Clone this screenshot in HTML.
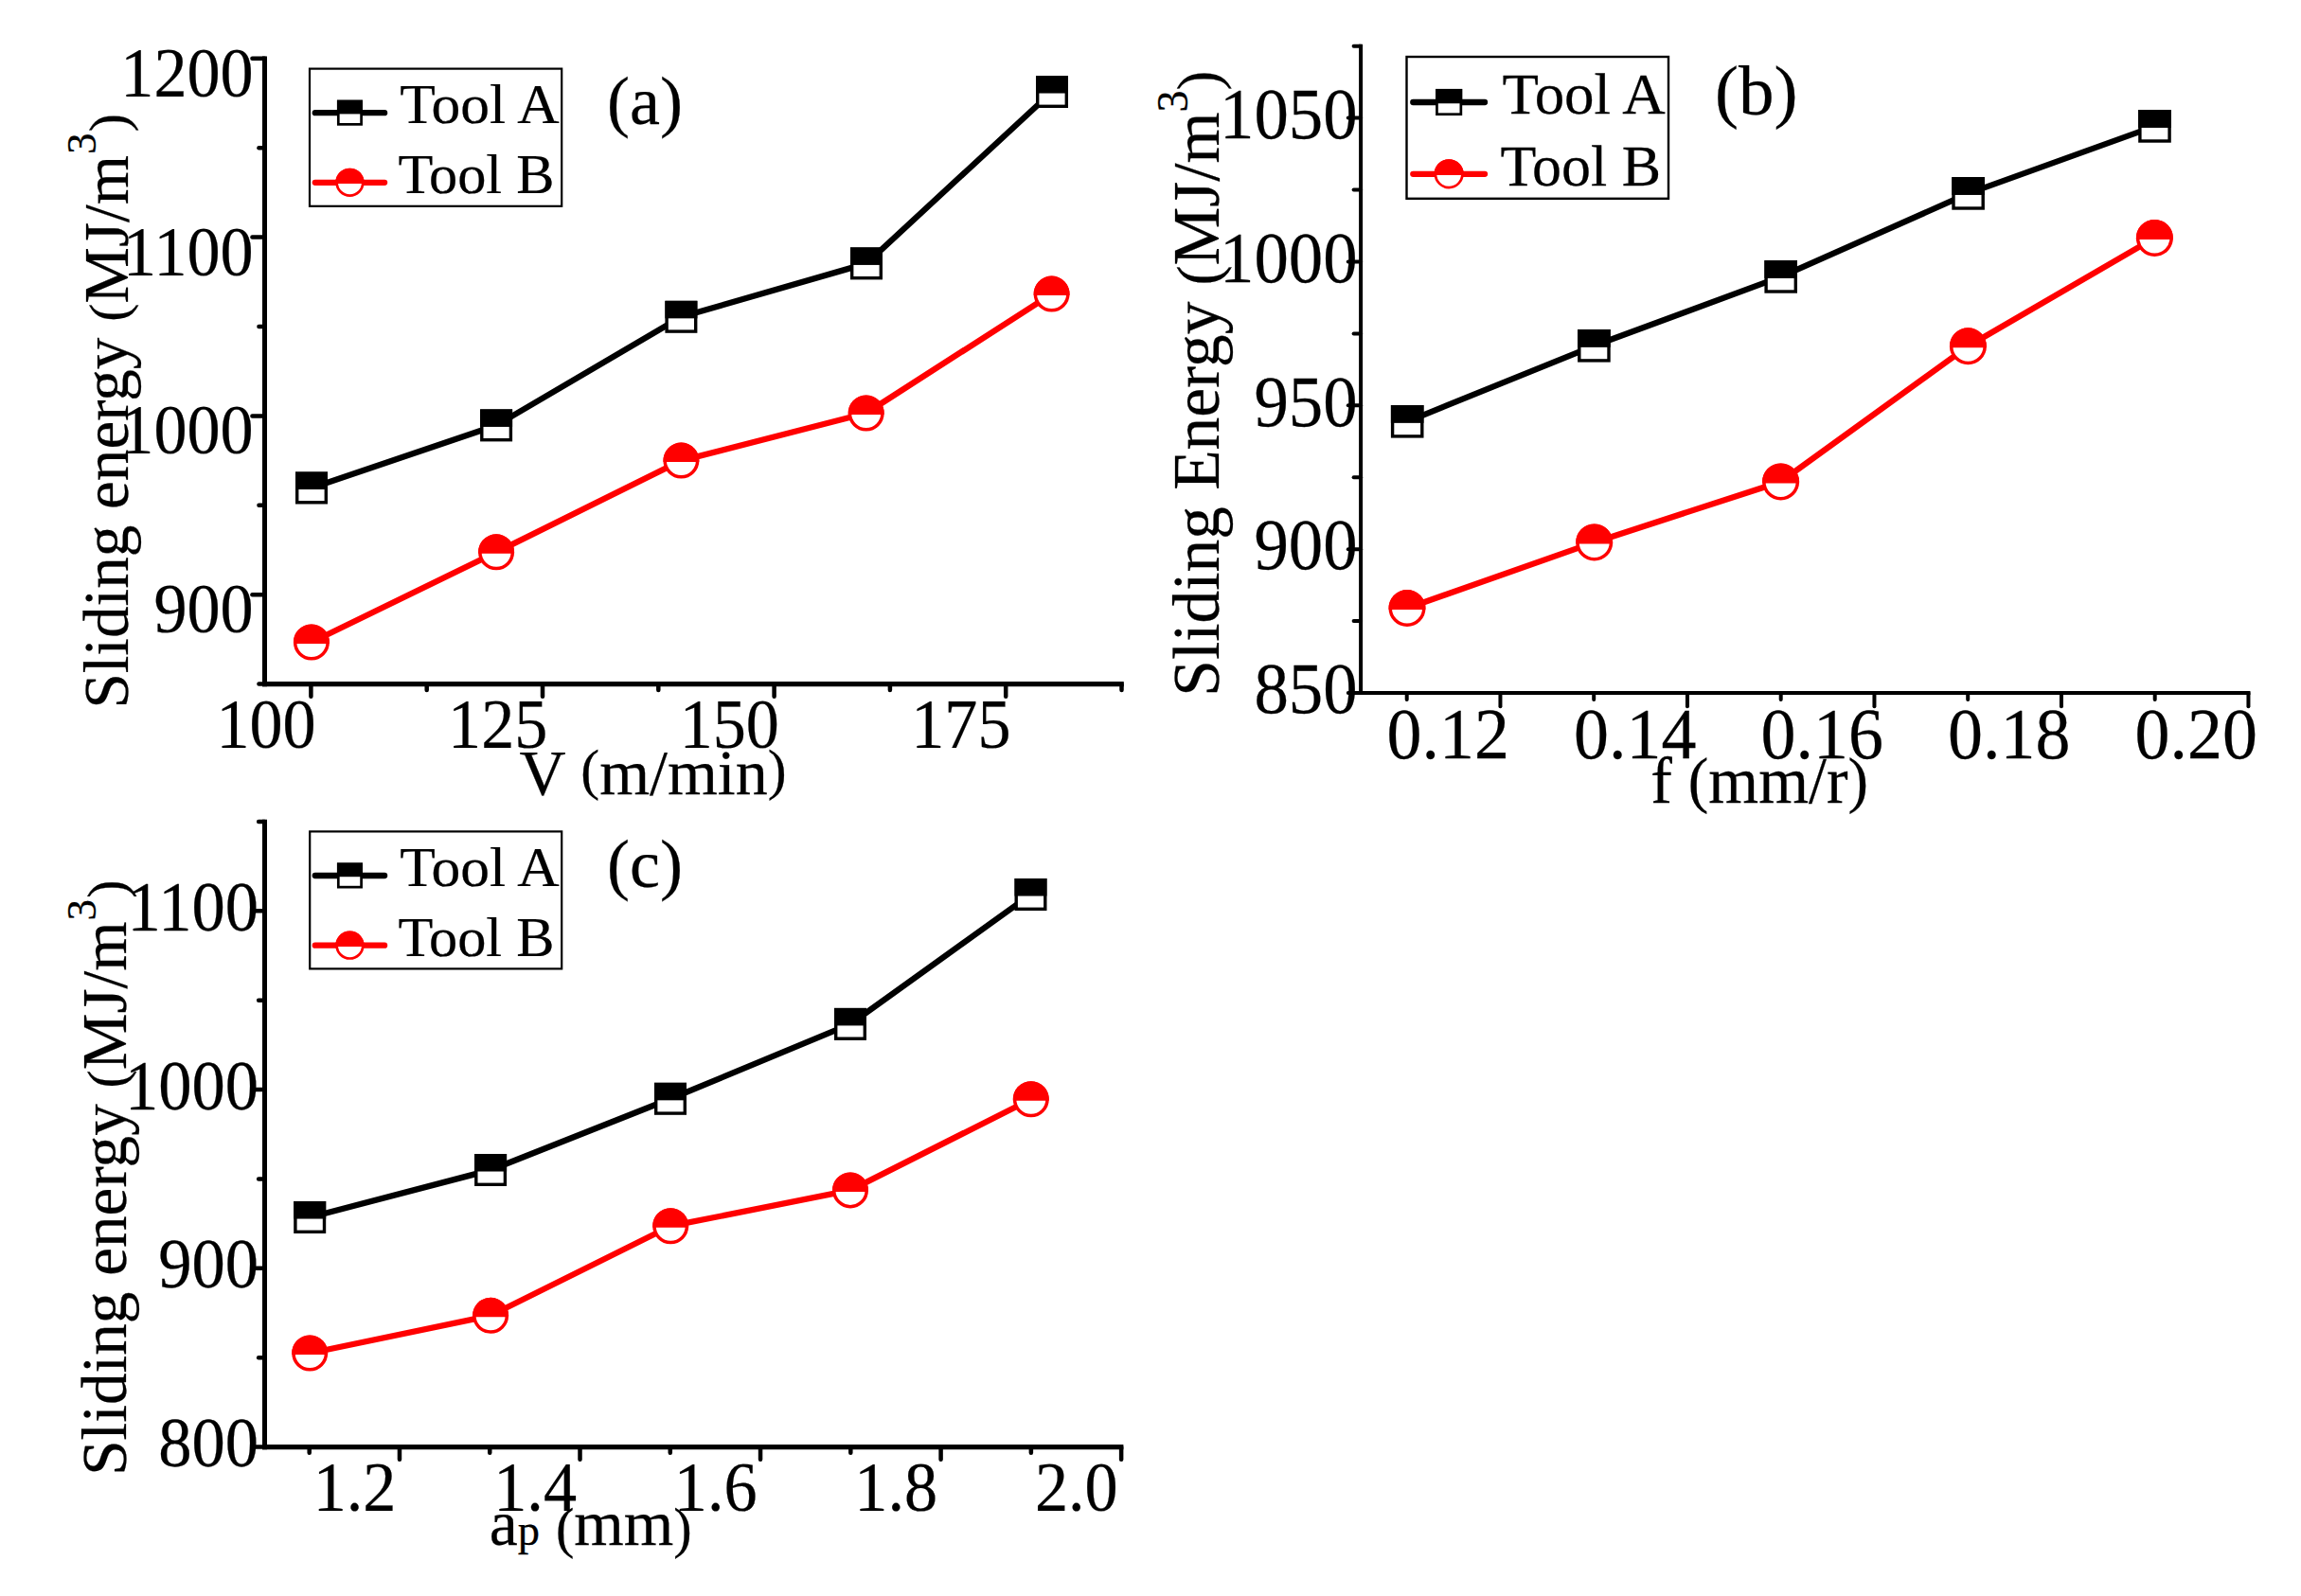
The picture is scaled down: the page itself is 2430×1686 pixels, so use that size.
<!DOCTYPE html>
<html lang="en"><head><meta charset="utf-8"><title>Sliding energy versus cutting parameters</title>
<style>
html,body{margin:0;padding:0;background:#fff}
svg{display:block}
text{font-family:"Liberation Serif",serif;fill:#000;stroke:#000;stroke-width:0.25px}
</style>
</head><body>
<svg width="2430" height="1686" viewBox="0 0 2430 1686">
<rect width="2430" height="1686" fill="#fff"/>
<g id="panel-a">
<polyline points="329.00,515.50 524.10,449.40 719.40,334.80 915.00,278.40 1111.00,97.00" fill="none" stroke="#000" stroke-width="6.3" stroke-linejoin="round"/>
<polyline points="328.90,678.50 524.10,583.30 719.40,486.60 914.70,436.50 1110.60,310.60" fill="none" stroke="#ff0000" stroke-width="6.3" stroke-linejoin="round"/>
<rect x="313.70" y="500.20" width="30.60" height="30.60" fill="#fff" stroke="#000" stroke-width="3.4"/>
<rect x="312.00" y="498.50" width="34.00" height="18.53" fill="#000"/>
<rect x="508.80" y="434.10" width="30.60" height="30.60" fill="#fff" stroke="#000" stroke-width="3.4"/>
<rect x="507.10" y="432.40" width="34.00" height="18.53" fill="#000"/>
<rect x="704.10" y="319.50" width="30.60" height="30.60" fill="#fff" stroke="#000" stroke-width="3.4"/>
<rect x="702.40" y="317.80" width="34.00" height="18.53" fill="#000"/>
<rect x="899.70" y="263.10" width="30.60" height="30.60" fill="#fff" stroke="#000" stroke-width="3.4"/>
<rect x="898.00" y="261.40" width="34.00" height="18.53" fill="#000"/>
<rect x="1095.70" y="81.70" width="30.60" height="30.60" fill="#fff" stroke="#000" stroke-width="3.4"/>
<rect x="1094.00" y="80.00" width="34.00" height="18.53" fill="#000"/>
<circle cx="328.90" cy="678.50" r="17.25" fill="#fff" stroke="#ff0000" stroke-width="3.5"/>
<path d="M309.96,680.02 A19.00,19.00 0 1 1 347.84,680.02 Z" fill="#ff0000"/>
<circle cx="524.10" cy="583.30" r="17.25" fill="#fff" stroke="#ff0000" stroke-width="3.5"/>
<path d="M505.16,584.82 A19.00,19.00 0 1 1 543.04,584.82 Z" fill="#ff0000"/>
<circle cx="719.40" cy="486.60" r="17.25" fill="#fff" stroke="#ff0000" stroke-width="3.5"/>
<path d="M700.46,488.12 A19.00,19.00 0 1 1 738.34,488.12 Z" fill="#ff0000"/>
<circle cx="914.70" cy="436.50" r="17.25" fill="#fff" stroke="#ff0000" stroke-width="3.5"/>
<path d="M895.76,438.02 A19.00,19.00 0 1 1 933.64,438.02 Z" fill="#ff0000"/>
<circle cx="1110.60" cy="310.60" r="17.25" fill="#fff" stroke="#ff0000" stroke-width="3.5"/>
<path d="M1091.66,312.12 A19.00,19.00 0 1 1 1129.54,312.12 Z" fill="#ff0000"/>
<line x1="279.50" y1="59.55" x2="279.50" y2="725.20" stroke="#000" stroke-width="5" stroke-linecap="butt"/>
<line x1="277.00" y1="722.60" x2="1186.75" y2="722.60" stroke="#000" stroke-width="5.2" stroke-linecap="butt"/>
<line x1="266.45" y1="628.20" x2="279.50" y2="628.20" stroke="#000" stroke-width="4.5" stroke-linecap="round"/>
<line x1="266.45" y1="439.40" x2="279.50" y2="439.40" stroke="#000" stroke-width="4.5" stroke-linecap="round"/>
<line x1="266.45" y1="250.60" x2="279.50" y2="250.60" stroke="#000" stroke-width="4.5" stroke-linecap="round"/>
<line x1="266.45" y1="61.80" x2="279.50" y2="61.80" stroke="#000" stroke-width="4.5" stroke-linecap="round"/>
<line x1="273.45" y1="722.60" x2="279.50" y2="722.60" stroke="#000" stroke-width="4.5" stroke-linecap="round"/>
<line x1="273.45" y1="533.80" x2="279.50" y2="533.80" stroke="#000" stroke-width="4.5" stroke-linecap="round"/>
<line x1="273.45" y1="345.00" x2="279.50" y2="345.00" stroke="#000" stroke-width="4.5" stroke-linecap="round"/>
<line x1="273.45" y1="156.20" x2="279.50" y2="156.20" stroke="#000" stroke-width="4.5" stroke-linecap="round"/>
<line x1="328.40" y1="722.60" x2="328.40" y2="735.65" stroke="#000" stroke-width="4.5" stroke-linecap="round"/>
<line x1="573.00" y1="722.60" x2="573.00" y2="735.65" stroke="#000" stroke-width="4.5" stroke-linecap="round"/>
<line x1="817.60" y1="722.60" x2="817.60" y2="735.65" stroke="#000" stroke-width="4.5" stroke-linecap="round"/>
<line x1="1062.20" y1="722.60" x2="1062.20" y2="735.65" stroke="#000" stroke-width="4.5" stroke-linecap="round"/>
<line x1="450.70" y1="722.60" x2="450.70" y2="728.95" stroke="#000" stroke-width="4.5" stroke-linecap="round"/>
<line x1="695.30" y1="722.60" x2="695.30" y2="728.95" stroke="#000" stroke-width="4.5" stroke-linecap="round"/>
<line x1="939.90" y1="722.60" x2="939.90" y2="728.95" stroke="#000" stroke-width="4.5" stroke-linecap="round"/>
<line x1="1184.50" y1="722.60" x2="1184.50" y2="728.95" stroke="#000" stroke-width="4.5" stroke-linecap="round"/>
<text class="t" transform="translate(267.60,668.20) scale(0.957,1)" font-size="73.3" text-anchor="end">900</text>
<text class="t" transform="translate(267.60,479.40) scale(0.957,1)" font-size="73.3" text-anchor="end">1000</text>
<text class="t" transform="translate(267.60,290.60) scale(0.957,1)" font-size="73.3" text-anchor="end">1100</text>
<text class="t" transform="translate(267.60,101.80) scale(0.957,1)" font-size="73.3" text-anchor="end">1200</text>
<text class="t" transform="translate(333.70,790.00) scale(0.957,1)" font-size="73.3" text-anchor="end">100</text>
<text class="t" transform="translate(578.30,790.00) scale(0.957,1)" font-size="73.3" text-anchor="end">125</text>
<text class="t" transform="translate(822.90,790.00) scale(0.957,1)" font-size="73.3" text-anchor="end">150</text>
<text class="t" transform="translate(1067.50,790.00) scale(0.957,1)" font-size="73.3" text-anchor="end">175</text>
<rect x="327" y="72.6" width="266.20" height="145.20" fill="#fff" stroke="#000" stroke-width="2.2"/>
<line x1="332.80" y1="119.20" x2="406.10" y2="119.20" stroke="#000" stroke-width="6.3" stroke-linecap="round"/>
<rect x="357.30" y="107.05" width="24.30" height="24.30" fill="#fff" stroke="#000" stroke-width="2.7"/>
<rect x="355.95" y="105.70" width="27.00" height="14.72" fill="#000"/>
<line x1="332.80" y1="192.80" x2="406.10" y2="192.80" stroke="#ff0000" stroke-width="6.3" stroke-linecap="round"/>
<circle cx="369.45" cy="192.80" r="13.80" fill="#fff" stroke="#ff0000" stroke-width="2.7"/>
<path d="M354.35,194.01 A15.15,15.15 0 1 1 384.55,194.01 Z" fill="#ff0000"/>
<text class="t" transform="translate(422.30,130.00) scale(1.025,1)" font-size="60" text-anchor="start">Tool A</text>
<text class="t" transform="translate(420.40,203.80) scale(1.005,1)" font-size="60" text-anchor="start">Tool B</text>
<text class="t" transform="translate(641.10,131.20) scale(1.0,1)" font-size="72" text-anchor="start">(a)</text>
<text class="t" transform="translate(548.40,839.10) scale(1.0,1)" font-size="68" text-anchor="start"><tspan>V </tspan><tspan font-size="59.6" dy="-5.80">(</tspan><tspan dy="5.80">m/min</tspan><tspan font-size="59.6" dy="-5.80">)</tspan></text>
<text class="t" transform="translate(135.30,748.60) rotate(-90)" font-size="67.1"><tspan>Sliding energy </tspan><tspan font-size="57.5" dy="-1.10">(</tspan><tspan dy="1.10">MJ/m</tspan><tspan dx="1.0" font-size="45" dy="-34.00">3</tspan><tspan dx="1.3" font-size="57.5" dy="32.90">)</tspan></text>
</g>
<g id="panel-b">
<polyline points="1486.20,445.30 1683.40,365.30 1880.70,292.40 2078.60,204.40 2275.50,133.40" fill="none" stroke="#000" stroke-width="6.3" stroke-linejoin="round"/>
<polyline points="1486.00,642.50 1683.70,572.90 1880.60,508.90 2078.40,365.80 2275.40,251.40" fill="none" stroke="#ff0000" stroke-width="6.3" stroke-linejoin="round"/>
<rect x="1470.60" y="429.70" width="31.20" height="31.20" fill="#fff" stroke="#000" stroke-width="3.4"/>
<rect x="1468.90" y="428.00" width="34.60" height="18.86" fill="#000"/>
<rect x="1667.80" y="349.70" width="31.20" height="31.20" fill="#fff" stroke="#000" stroke-width="3.4"/>
<rect x="1666.10" y="348.00" width="34.60" height="18.86" fill="#000"/>
<rect x="1865.10" y="276.80" width="31.20" height="31.20" fill="#fff" stroke="#000" stroke-width="3.4"/>
<rect x="1863.40" y="275.10" width="34.60" height="18.86" fill="#000"/>
<rect x="2063.00" y="188.80" width="31.20" height="31.20" fill="#fff" stroke="#000" stroke-width="3.4"/>
<rect x="2061.30" y="187.10" width="34.60" height="18.86" fill="#000"/>
<rect x="2259.90" y="117.80" width="31.20" height="31.20" fill="#fff" stroke="#000" stroke-width="3.4"/>
<rect x="2258.20" y="116.10" width="34.60" height="18.86" fill="#000"/>
<circle cx="1486.00" cy="642.50" r="17.75" fill="#fff" stroke="#ff0000" stroke-width="3.5"/>
<path d="M1466.56,644.06 A19.50,19.50 0 1 1 1505.44,644.06 Z" fill="#ff0000"/>
<circle cx="1683.70" cy="572.90" r="17.75" fill="#fff" stroke="#ff0000" stroke-width="3.5"/>
<path d="M1664.26,574.46 A19.50,19.50 0 1 1 1703.14,574.46 Z" fill="#ff0000"/>
<circle cx="1880.60" cy="508.90" r="17.75" fill="#fff" stroke="#ff0000" stroke-width="3.5"/>
<path d="M1861.16,510.46 A19.50,19.50 0 1 1 1900.04,510.46 Z" fill="#ff0000"/>
<circle cx="2078.40" cy="365.80" r="17.75" fill="#fff" stroke="#ff0000" stroke-width="3.5"/>
<path d="M2058.96,367.36 A19.50,19.50 0 1 1 2097.84,367.36 Z" fill="#ff0000"/>
<circle cx="2275.40" cy="251.40" r="17.75" fill="#fff" stroke="#ff0000" stroke-width="3.5"/>
<path d="M2255.96,252.96 A19.50,19.50 0 1 1 2294.84,252.96 Z" fill="#ff0000"/>
<line x1="1437.10" y1="46.68" x2="1437.10" y2="734.00" stroke="#000" stroke-width="4" stroke-linecap="butt"/>
<line x1="1435.10" y1="732.00" x2="2376.45" y2="732.00" stroke="#000" stroke-width="4" stroke-linecap="butt"/>
<line x1="1423.80" y1="732.00" x2="1437.10" y2="732.00" stroke="#000" stroke-width="4" stroke-linecap="round"/>
<line x1="1423.80" y1="580.15" x2="1437.10" y2="580.15" stroke="#000" stroke-width="4" stroke-linecap="round"/>
<line x1="1423.80" y1="428.30" x2="1437.10" y2="428.30" stroke="#000" stroke-width="4" stroke-linecap="round"/>
<line x1="1423.80" y1="276.45" x2="1437.10" y2="276.45" stroke="#000" stroke-width="4" stroke-linecap="round"/>
<line x1="1423.80" y1="124.60" x2="1437.10" y2="124.60" stroke="#000" stroke-width="4" stroke-linecap="round"/>
<line x1="1429.60" y1="656.08" x2="1437.10" y2="656.08" stroke="#000" stroke-width="4" stroke-linecap="round"/>
<line x1="1429.60" y1="504.23" x2="1437.10" y2="504.23" stroke="#000" stroke-width="4" stroke-linecap="round"/>
<line x1="1429.60" y1="352.38" x2="1437.10" y2="352.38" stroke="#000" stroke-width="4" stroke-linecap="round"/>
<line x1="1429.60" y1="200.52" x2="1437.10" y2="200.52" stroke="#000" stroke-width="4" stroke-linecap="round"/>
<line x1="1429.60" y1="48.68" x2="1437.10" y2="48.68" stroke="#000" stroke-width="4" stroke-linecap="round"/>
<line x1="1584.45" y1="732.00" x2="1584.45" y2="746.30" stroke="#000" stroke-width="4" stroke-linecap="round"/>
<line x1="1781.95" y1="732.00" x2="1781.95" y2="746.30" stroke="#000" stroke-width="4" stroke-linecap="round"/>
<line x1="1979.45" y1="732.00" x2="1979.45" y2="746.30" stroke="#000" stroke-width="4" stroke-linecap="round"/>
<line x1="2176.95" y1="732.00" x2="2176.95" y2="746.30" stroke="#000" stroke-width="4" stroke-linecap="round"/>
<line x1="2374.45" y1="732.00" x2="2374.45" y2="746.30" stroke="#000" stroke-width="4" stroke-linecap="round"/>
<line x1="1485.70" y1="732.00" x2="1485.70" y2="739.10" stroke="#000" stroke-width="4" stroke-linecap="round"/>
<line x1="1683.20" y1="732.00" x2="1683.20" y2="739.10" stroke="#000" stroke-width="4" stroke-linecap="round"/>
<line x1="1880.70" y1="732.00" x2="1880.70" y2="739.10" stroke="#000" stroke-width="4" stroke-linecap="round"/>
<line x1="2078.20" y1="732.00" x2="2078.20" y2="739.10" stroke="#000" stroke-width="4" stroke-linecap="round"/>
<line x1="2275.70" y1="732.00" x2="2275.70" y2="739.10" stroke="#000" stroke-width="4" stroke-linecap="round"/>
<text class="t" transform="translate(1433.60,753.30) scale(0.945,1)" font-size="77" text-anchor="end">850</text>
<text class="t" transform="translate(1433.60,601.45) scale(0.945,1)" font-size="77" text-anchor="end">900</text>
<text class="t" transform="translate(1433.60,449.60) scale(0.945,1)" font-size="77" text-anchor="end">950</text>
<text class="t" transform="translate(1433.60,297.75) scale(0.945,1)" font-size="77" text-anchor="end">1000</text>
<text class="t" transform="translate(1433.60,145.90) scale(0.945,1)" font-size="77" text-anchor="end">1050</text>
<text class="t" transform="translate(1593.95,801.30) scale(0.96,1)" font-size="77" text-anchor="end">0.12</text>
<text class="t" transform="translate(1791.45,801.30) scale(0.96,1)" font-size="77" text-anchor="end">0.14</text>
<text class="t" transform="translate(1988.95,801.30) scale(0.96,1)" font-size="77" text-anchor="end">0.16</text>
<text class="t" transform="translate(2186.45,801.30) scale(0.96,1)" font-size="77" text-anchor="end">0.18</text>
<text class="t" transform="translate(2383.95,801.30) scale(0.96,1)" font-size="77" text-anchor="end">0.20</text>
<rect x="1485.5" y="60" width="276.50" height="149.80" fill="#fff" stroke="#000" stroke-width="2.4"/>
<line x1="1492.30" y1="108.00" x2="1568.00" y2="108.00" stroke="#000" stroke-width="6.3" stroke-linecap="round"/>
<rect x="1517.45" y="95.30" width="25.40" height="25.40" fill="#fff" stroke="#000" stroke-width="2.7"/>
<rect x="1516.10" y="93.95" width="28.10" height="15.31" fill="#000"/>
<line x1="1492.30" y1="183.80" x2="1568.00" y2="183.80" stroke="#ff0000" stroke-width="6.3" stroke-linecap="round"/>
<circle cx="1530.15" cy="183.80" r="14.25" fill="#fff" stroke="#ff0000" stroke-width="2.7"/>
<path d="M1514.60,185.05 A15.60,15.60 0 1 1 1545.70,185.05 Z" fill="#ff0000"/>
<text class="t" transform="translate(1586.60,120.00) scale(1.01,1)" font-size="62.3" text-anchor="start">Tool A</text>
<text class="t" transform="translate(1584.50,196.00) scale(0.995,1)" font-size="62.3" text-anchor="start">Tool B</text>
<text class="t" transform="translate(1811.00,121.30) scale(1.0,1)" font-size="75" text-anchor="start">(b)</text>
<text class="t" transform="translate(1743.20,847.80) scale(0.985,1)" font-size="69" text-anchor="start"><tspan>f </tspan><tspan font-size="65.6" dy="-1.80">(</tspan><tspan dy="1.80">mm/r</tspan><tspan font-size="65.6" dy="-1.80">)</tspan></text>
<text class="t" transform="translate(1287.10,735.65) rotate(-90)" font-size="69.4"><tspan>Sliding Energy </tspan><tspan font-size="62.6">(</tspan><tspan>MJ/m</tspan><tspan font-size="46" dy="-33.00">3</tspan><tspan font-size="62.6" dy="33.00">)</tspan></text>
</g>
<g id="panel-c">
<polyline points="327.20,1286.00 518.10,1236.00 708.00,1160.80 898.00,1081.90 1088.50,945.00" fill="none" stroke="#000" stroke-width="6.3" stroke-linejoin="round"/>
<polyline points="327.20,1429.50 518.10,1389.80 708.20,1295.20 898.00,1257.40 1088.80,1161.20" fill="none" stroke="#ff0000" stroke-width="6.3" stroke-linejoin="round"/>
<rect x="311.90" y="1270.70" width="30.60" height="30.60" fill="#fff" stroke="#000" stroke-width="3.4"/>
<rect x="310.20" y="1269.00" width="34.00" height="18.53" fill="#000"/>
<rect x="502.80" y="1220.70" width="30.60" height="30.60" fill="#fff" stroke="#000" stroke-width="3.4"/>
<rect x="501.10" y="1219.00" width="34.00" height="18.53" fill="#000"/>
<rect x="692.70" y="1145.50" width="30.60" height="30.60" fill="#fff" stroke="#000" stroke-width="3.4"/>
<rect x="691.00" y="1143.80" width="34.00" height="18.53" fill="#000"/>
<rect x="882.70" y="1066.60" width="30.60" height="30.60" fill="#fff" stroke="#000" stroke-width="3.4"/>
<rect x="881.00" y="1064.90" width="34.00" height="18.53" fill="#000"/>
<rect x="1073.20" y="929.70" width="30.60" height="30.60" fill="#fff" stroke="#000" stroke-width="3.4"/>
<rect x="1071.50" y="928.00" width="34.00" height="18.53" fill="#000"/>
<circle cx="327.20" cy="1429.50" r="17.25" fill="#fff" stroke="#ff0000" stroke-width="3.5"/>
<path d="M308.26,1431.02 A19.00,19.00 0 1 1 346.14,1431.02 Z" fill="#ff0000"/>
<circle cx="518.10" cy="1389.80" r="17.25" fill="#fff" stroke="#ff0000" stroke-width="3.5"/>
<path d="M499.16,1391.32 A19.00,19.00 0 1 1 537.04,1391.32 Z" fill="#ff0000"/>
<circle cx="708.20" cy="1295.20" r="17.25" fill="#fff" stroke="#ff0000" stroke-width="3.5"/>
<path d="M689.26,1296.72 A19.00,19.00 0 1 1 727.14,1296.72 Z" fill="#ff0000"/>
<circle cx="898.00" cy="1257.40" r="17.25" fill="#fff" stroke="#ff0000" stroke-width="3.5"/>
<path d="M879.06,1258.92 A19.00,19.00 0 1 1 916.94,1258.92 Z" fill="#ff0000"/>
<circle cx="1088.80" cy="1161.20" r="17.25" fill="#fff" stroke="#ff0000" stroke-width="3.5"/>
<path d="M1069.86,1162.72 A19.00,19.00 0 1 1 1107.74,1162.72 Z" fill="#ff0000"/>
<line x1="279.50" y1="865.65" x2="279.50" y2="1531.20" stroke="#000" stroke-width="5" stroke-linecap="butt"/>
<line x1="277.00" y1="1528.60" x2="1186.38" y2="1528.60" stroke="#000" stroke-width="5.2" stroke-linecap="butt"/>
<line x1="269.95" y1="1528.60" x2="279.50" y2="1528.60" stroke="#000" stroke-width="4.5" stroke-linecap="round"/>
<line x1="269.95" y1="1339.83" x2="279.50" y2="1339.83" stroke="#000" stroke-width="4.5" stroke-linecap="round"/>
<line x1="269.95" y1="1151.06" x2="279.50" y2="1151.06" stroke="#000" stroke-width="4.5" stroke-linecap="round"/>
<line x1="269.95" y1="962.29" x2="279.50" y2="962.29" stroke="#000" stroke-width="4.5" stroke-linecap="round"/>
<line x1="273.15" y1="1434.21" x2="279.50" y2="1434.21" stroke="#000" stroke-width="4.5" stroke-linecap="round"/>
<line x1="273.15" y1="1245.44" x2="279.50" y2="1245.44" stroke="#000" stroke-width="4.5" stroke-linecap="round"/>
<line x1="273.15" y1="1056.67" x2="279.50" y2="1056.67" stroke="#000" stroke-width="4.5" stroke-linecap="round"/>
<line x1="273.15" y1="867.90" x2="279.50" y2="867.90" stroke="#000" stroke-width="4.5" stroke-linecap="round"/>
<line x1="421.97" y1="1528.60" x2="421.97" y2="1541.65" stroke="#000" stroke-width="4.5" stroke-linecap="round"/>
<line x1="612.51" y1="1528.60" x2="612.51" y2="1541.65" stroke="#000" stroke-width="4.5" stroke-linecap="round"/>
<line x1="803.05" y1="1528.60" x2="803.05" y2="1541.65" stroke="#000" stroke-width="4.5" stroke-linecap="round"/>
<line x1="993.59" y1="1528.60" x2="993.59" y2="1541.65" stroke="#000" stroke-width="4.5" stroke-linecap="round"/>
<line x1="1184.13" y1="1528.60" x2="1184.13" y2="1541.65" stroke="#000" stroke-width="4.5" stroke-linecap="round"/>
<line x1="326.70" y1="1528.60" x2="326.70" y2="1534.65" stroke="#000" stroke-width="4.5" stroke-linecap="round"/>
<line x1="517.24" y1="1528.60" x2="517.24" y2="1534.65" stroke="#000" stroke-width="4.5" stroke-linecap="round"/>
<line x1="707.78" y1="1528.60" x2="707.78" y2="1534.65" stroke="#000" stroke-width="4.5" stroke-linecap="round"/>
<line x1="898.32" y1="1528.60" x2="898.32" y2="1534.65" stroke="#000" stroke-width="4.5" stroke-linecap="round"/>
<line x1="1088.86" y1="1528.60" x2="1088.86" y2="1534.65" stroke="#000" stroke-width="4.5" stroke-linecap="round"/>
<text class="t" transform="translate(273.00,1549.10) scale(0.96,1)" font-size="73.5" text-anchor="end">800</text>
<text class="t" transform="translate(273.00,1360.33) scale(0.96,1)" font-size="73.5" text-anchor="end">900</text>
<text class="t" transform="translate(273.00,1171.56) scale(0.96,1)" font-size="73.5" text-anchor="end">1000</text>
<text class="t" transform="translate(273.00,982.79) scale(0.96,1)" font-size="73.5" text-anchor="end">1100</text>
<text class="t" transform="translate(418.47,1595.80) scale(0.955,1)" font-size="73.5" text-anchor="end">1.2</text>
<text class="t" transform="translate(609.01,1595.80) scale(0.955,1)" font-size="73.5" text-anchor="end">1.4</text>
<text class="t" transform="translate(799.55,1595.80) scale(0.955,1)" font-size="73.5" text-anchor="end">1.6</text>
<text class="t" transform="translate(990.09,1595.80) scale(0.955,1)" font-size="73.5" text-anchor="end">1.8</text>
<text class="t" transform="translate(1180.63,1595.80) scale(0.955,1)" font-size="73.5" text-anchor="end">2.0</text>
<rect x="327.2" y="878.4" width="266.00" height="145.00" fill="#fff" stroke="#000" stroke-width="2.2"/>
<line x1="332.80" y1="925.00" x2="406.10" y2="925.00" stroke="#000" stroke-width="6.3" stroke-linecap="round"/>
<rect x="357.30" y="912.85" width="24.30" height="24.30" fill="#fff" stroke="#000" stroke-width="2.7"/>
<rect x="355.95" y="911.50" width="27.00" height="14.72" fill="#000"/>
<line x1="332.80" y1="998.70" x2="406.10" y2="998.70" stroke="#ff0000" stroke-width="6.3" stroke-linecap="round"/>
<circle cx="369.45" cy="998.70" r="13.80" fill="#fff" stroke="#ff0000" stroke-width="2.7"/>
<path d="M354.35,999.91 A15.15,15.15 0 1 1 384.55,999.91 Z" fill="#ff0000"/>
<text class="t" transform="translate(422.30,936.00) scale(1.025,1)" font-size="60" text-anchor="start">Tool A</text>
<text class="t" transform="translate(420.40,1009.80) scale(1.005,1)" font-size="60" text-anchor="start">Tool B</text>
<text class="t" transform="translate(641.10,937.40) scale(1.0,1)" font-size="72" text-anchor="start">(c)</text>
<text class="t" transform="translate(516.80,1632.00) scale(1.0,1)" font-size="67.5" text-anchor="start"><tspan>a</tspan><tspan font-size="46.5">p</tspan><tspan> </tspan><tspan font-size="58.3" dy="1.50">(</tspan><tspan dy="-1.50">mm</tspan><tspan font-size="58.3" dy="1.50">)</tspan></text>
<text class="t" transform="translate(133.00,1558.80) rotate(-90)" font-size="67.2"><tspan>Sliding energy </tspan><tspan font-size="57.5" dy="-1.10">(</tspan><tspan dy="1.10">MJ/m</tspan><tspan dx="1.0" font-size="45" dy="-32.00">3</tspan><tspan dx="1.3" font-size="57.5" dy="30.90">)</tspan></text>
</g>
</svg>
</body></html>
